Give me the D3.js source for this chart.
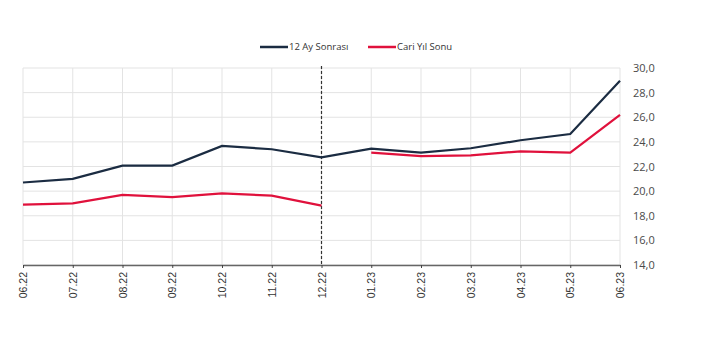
<!DOCTYPE html>
<html lang="tr">
<head>
<meta charset="UTF-8">
<title>Beklentiler</title>
<script src="https://cdn.jsdelivr.net/npm/d3@7"></script>
<style>
  html, body { margin: 0; padding: 0; background: #fff; }
  text { font-family: "Open Sans", "Noto Sans", sans-serif; }
  .grid line { stroke: #e3e3e3; stroke-width: 1; }
  .y-axis text { font-size: 11px; fill: #4a4a4a; }
  .x-axis text { font-size: 10.5px; fill: #333; font-family: "Liberation Sans", Arial, sans-serif; }
  .legend text { font-size: 9.5px; fill: #333; }
</style>
</head>
<body>
<div id="chart"></div>
<script>
const months = ['06.22','07.22','08.22','09.22','10.22','11.22','12.22',
                '01.23','02.23','03.23','04.23','05.23','06.23']
const seriesNames = ['12 Ay Sonrası', 'Cari Yıl Sonu']
const ayOnIki = [20.7, 21.0, 22.07, 22.07, 23.67, 23.4, 22.75,
                 23.45, 23.12, 23.48, 24.13, 24.64, 28.97]
const cariYil = [18.9, 19.01, 19.69, 19.52, 19.82, 19.63, 18.82,
                 23.12, 22.85, 22.9, 23.23, 23.12, 26.19]
// yeni yıl başlangıcında cari yıl serisi kesiliyor
const breakAfter = '12.22'
const yTicks = [14, 16, 18, 20, 22, 24, 26, 28, 30]

const W = 702, H = 351
const margin = { top: 68, right: 82, bottom: 86, left: 23 }
const width = W - margin.left - margin.right
const height = H - margin.top - margin.bottom

const svg = d3.select('#chart').append('svg')
  .attr('width', W).attr('height', H)

const g = svg.append('g')
  .attr('transform', `translate(${margin.left},${margin.top})`)

const x = d3.scalePoint().domain(months).range([0, width])
const y = d3.scaleLinear().domain([14, 30]).range([height, 0])

// grid
g.append('g').attr('class', 'grid')
  .selectAll('line.h').data(yTicks).enter().append('line')
  .attr('x1', 0).attr('x2', width)
  .attr('y1', d => y(d)).attr('y2', d => y(d))
g.select('.grid')
  .selectAll('line.v').data(months).enter().append('line')
  .attr('x1', d => x(d)).attr('x2', d => x(d))
  .attr('y1', 0).attr('y2', height)

// y axis right
const yAxis = g.append('g').attr('class', 'y-axis')
  .attr('transform', `translate(${width + 10},0)`)
  .call(d3.axisRight(y).tickValues(yTicks).tickSize(0)
    .tickFormat(d => d3.format('.1f')(d).replace('.', ',')))
yAxis.select('.domain').remove()

// x axis
const xAxis = g.append('g').attr('class', 'x-axis')
  .attr('transform', `translate(0,${height})`)
  .call(d3.axisBottom(x).tickSize(3).tickSizeOuter(0))
xAxis.select('.domain').attr('stroke', '#666').attr('stroke-width', 1.5)
xAxis.selectAll('.tick line').attr('stroke', '#444')
xAxis.selectAll('text')
  .attr('transform', 'rotate(-90)')
  .attr('text-anchor', 'end')
  .attr('x', -7).attr('y', 0).attr('dy', '0.35em')

// dashed divider
g.append('line')
  .attr('x1', x(breakAfter)).attr('x2', x(breakAfter))
  .attr('y1', -2).attr('y2', height)
  .attr('stroke', '#333').attr('stroke-width', 1.2)
  .attr('stroke-dasharray', '3,2')

const line = d3.line()
  .defined(d => d.v != null)
  .x(d => x(d.m)).y(d => y(d.v))

const breakIdx = months.indexOf(breakAfter)
const navyData = months.map((m, i) => ({ m, v: ayOnIki[i] }))
const redData = months.map((m, i) => ({ m, v: cariYil[i] }))
const redA = redData.slice(0, breakIdx + 1)
const redB = redData.slice(breakIdx + 1)

g.append('path').datum(redA).attr('d', line)
  .attr('fill', 'none').attr('stroke', '#e0113c').attr('stroke-width', 2.2)
g.append('path').datum(redB).attr('d', line)
  .attr('fill', 'none').attr('stroke', '#e0113c').attr('stroke-width', 2.2)
g.append('path').datum(navyData).attr('d', line)
  .attr('fill', 'none').attr('stroke', '#1b2c42').attr('stroke-width', 2.2)

// legend
const legendColors = ['#1b2c42', '#e0113c']
const legendX = [260, 368]
const legend = svg.append('g').attr('class', 'legend')
seriesNames.forEach((name, i) => {
  legend.append('line')
    .attr('x1', legendX[i]).attr('x2', legendX[i] + 28)
    .attr('y1', 47).attr('y2', 47)
    .attr('stroke', legendColors[i]).attr('stroke-width', 2.5)
  legend.append('text')
    .attr('x', legendX[i] + 29).attr('y', 47).attr('dy', '0.35em')
    .text(name)
})
</script>
</body>
</html>
